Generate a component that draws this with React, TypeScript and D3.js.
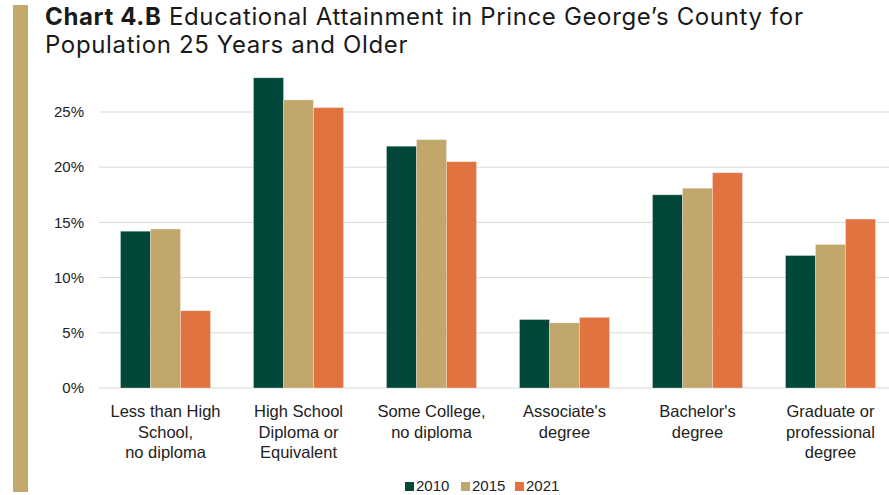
import React from "react";
import * as d3 from "d3";

const categories: string[][] = [
  ["Less than High", "School,", "no diploma"],
  ["High School", "Diploma or", "Equivalent"],
  ["Some College,", "no diploma"],
  ["Associate's", "degree"],
  ["Bachelor's", "degree"],
  ["Graduate or", "professional", "degree"],
];
const categoryKeys = ["lths", "hs", "sc", "assoc", "bach", "grad"];
const years = ["2010", "2015", "2021"];
const values2010 = [14.2, 28.1, 21.9, 6.2, 17.5, 12.0];
const values2015 = [14.4, 26.1, 22.5, 5.9, 18.1, 13.0];
const values2021 = [7.0, 25.4, 20.5, 6.4, 19.5, 15.3];
const yTicks = [0, 5, 10, 15, 20, 25];
const colors = ["#03473A", "#C2A76D", "#E07340"];

const W = 889;
const H = 495;

export default function App() {
  const series = [values2010, values2015, values2021];
  const x = d3
    .scaleBand<string>()
    .domain(categoryKeys)
    .range([99, 897])
    .paddingInner(0.3233)
    .paddingOuter(0.1617);
  const xi = d3.scaleBand<string>().domain(years).range([0, x.bandwidth()]).padding(0);
  const y = d3.scaleLinear().domain([0, 25]).range([388, 112]);
  const axisFont = "'Liberation Sans', Arial, sans-serif";

  return (
    <svg
      width={W}
      height={H}
      style={{ position: "absolute", left: 0, top: 0, display: "block", overflow: "hidden" }}
    >
      <rect x={0} y={0} width={W} height={H} fill="#ffffff" />
      <rect x={13} y={5} width={15} height={487} fill="#C3A96E" />
      <text x={45} y={25} fontFamily="Inter, sans-serif" fontSize={24} letterSpacing={0.65} fill="#1a1a1a">
        <tspan fontWeight={700}>Chart 4.B</tspan>
        <tspan> Educational Attainment in Prince George’s County for</tspan>
      </text>
      <text x={45} y={53} fontFamily="Inter, sans-serif" fontSize={24} letterSpacing={0.65} fill="#1a1a1a">
        Population 25 Years and Older
      </text>
      {yTicks.map((t) => (
        <g key={t}>
          <line x1={99} x2={W} y1={y(t)} y2={y(t)} stroke="#d9d9d9" strokeWidth={1} />
          <text
            x={84}
            y={y(t)}
            dy="0.35em"
            textAnchor="end"
            fontFamily={axisFont}
            fontSize={15}
            fill="#222"
          >
            {t}%
          </text>
        </g>
      ))}
      {categoryKeys.map((c, i) => (
        <g key={c} transform={`translate(${x(c)},0)`}>
          {years.map((yr, j) => (
            <rect
              key={yr}
              x={xi(yr)}
              y={y(series[j][i])}
              width={xi.bandwidth()}
              height={y(0) - y(series[j][i])}
              fill={colors[j]}
              stroke="rgba(255,255,255,0.35)"
              strokeWidth={0.8}
            />
          ))}
          <text
            x={x.bandwidth() / 2}
            y={417}
            textAnchor="middle"
            fontFamily={axisFont}
            fontSize={16.5}
            fill="#222"
          >
            {categories[i].map((line, k) => (
              <tspan key={k} x={x.bandwidth() / 2} dy={k === 0 ? 0 : 20.7}>
                {line}
              </tspan>
            ))}
          </text>
        </g>
      ))}
      {years.map((yr, j) => {
        const lx = [405, 461, 515][j];
        return (
          <g key={yr}>
            <rect x={lx} y={482} width={9} height={9} fill={colors[j]} />
            <text x={lx + 11} y={491} fontFamily={axisFont} fontSize={15} fill="#222">
              {yr}
            </text>
          </g>
        );
      })}
    </svg>
  );
}
